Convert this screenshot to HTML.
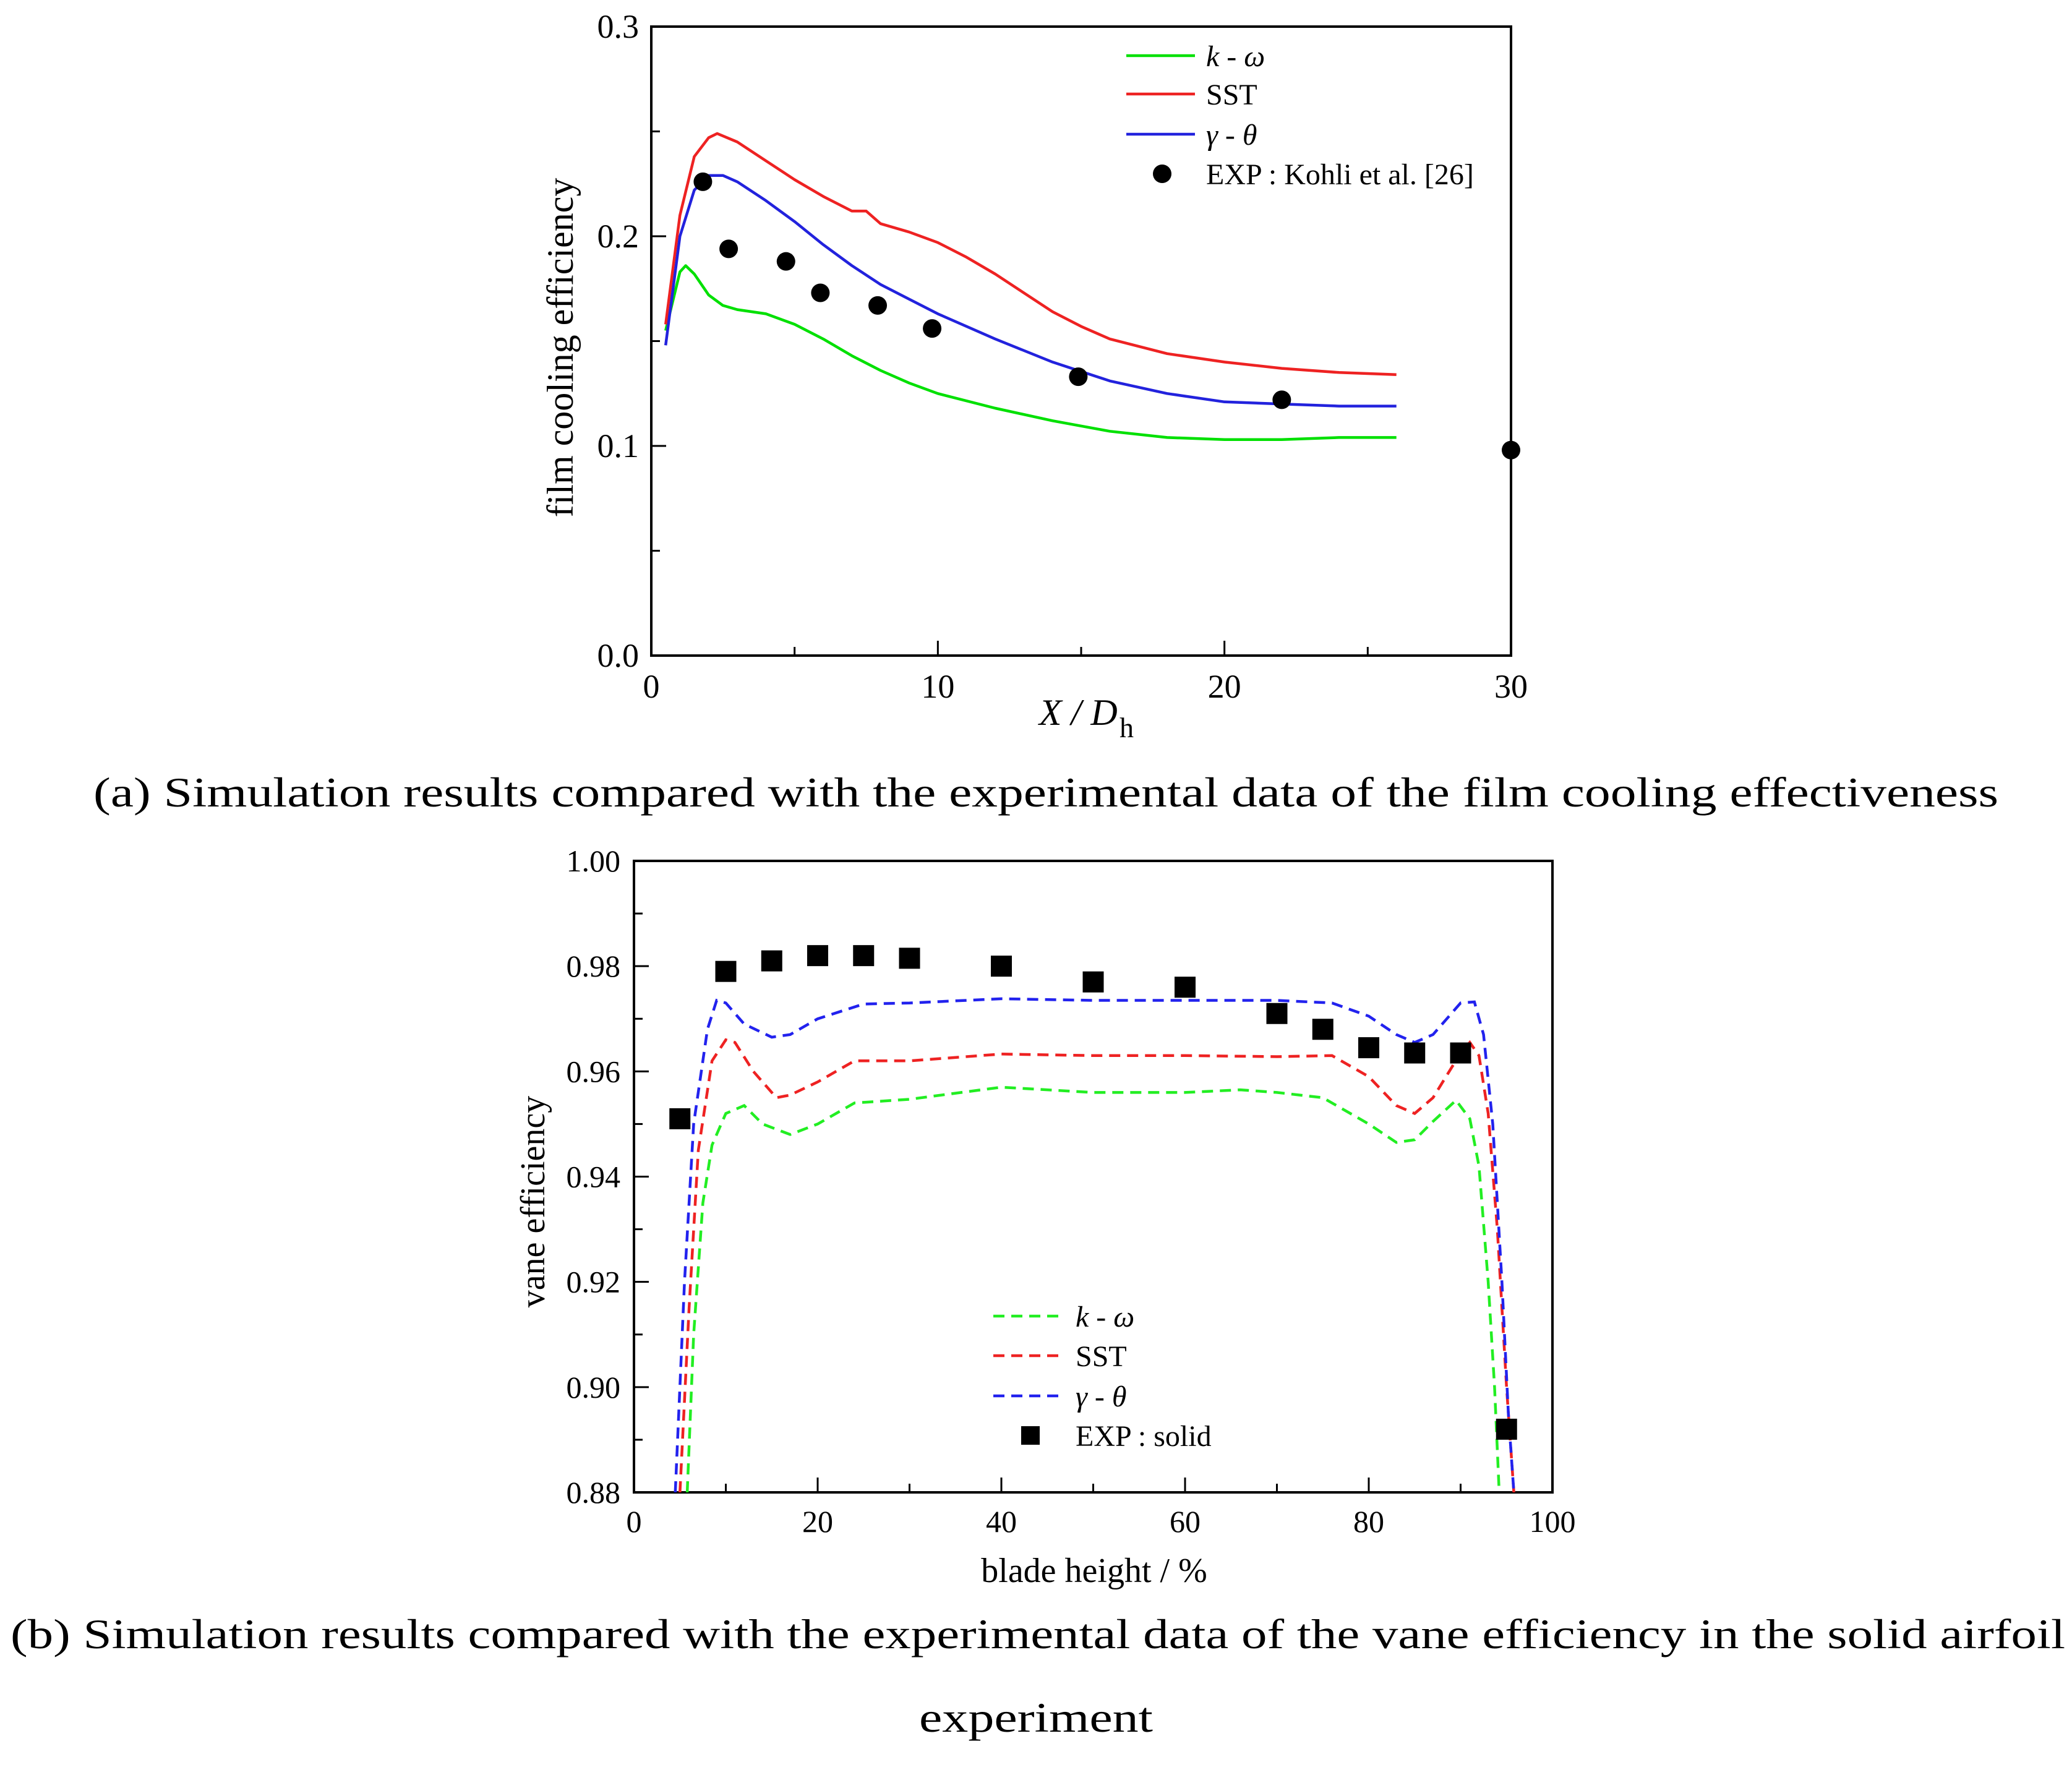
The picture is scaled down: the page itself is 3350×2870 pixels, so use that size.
<!DOCTYPE html>
<html><head><meta charset="utf-8"><style>
html,body{margin:0;padding:0;background:#fff}
svg{display:block}
text{font-family:"Liberation Serif",serif;fill:#000}
</style></head><body>
<svg id="svg" width="3350" height="2870" viewBox="0 0 3350 2870" xmlns="http://www.w3.org/2000/svg">
<defs>
<clipPath id="clipB"><rect x="1025" y="1390" width="1488" height="1025"/></clipPath>
</defs>
<g id="chartA"></g>
<g id="chartB"></g>
<text x="151" y="1304" font-size="68" textLength="3080" lengthAdjust="spacingAndGlyphs">(a) Simulation results compared with the experimental data of the film cooling effectiveness</text>
<text x="17" y="2665" font-size="68" textLength="3322" lengthAdjust="spacingAndGlyphs">(b) Simulation results compared with the experimental data of the vane efficiency in the solid airfoil</text>
<text x="1486" y="2800" font-size="68" textLength="378" lengthAdjust="spacingAndGlyphs">experiment</text>
</svg>
<script>
// ---- Chart A data ----
const aKwX=[0.5,1.0,1.2,1.5,2,2.5,3,4,5,6,7,8,9,10,12,14,16,18,20,22,24,26];
const aKwY=[0.155,0.183,0.186,0.182,0.172,0.167,0.165,0.163,0.158,0.151,0.143,0.136,0.13,0.125,0.118,0.112,0.107,0.104,0.103,0.103,0.104,0.104];
const aSstX=[0.5,1,1.5,2,2.3,3,4,5,6,7,7.5,8,9,10,11,12,13,14,15,16,18,20,22,24,26];
const aSstY=[0.158,0.21,0.238,0.247,0.249,0.245,0.236,0.227,0.219,0.212,0.212,0.206,0.202,0.197,0.19,0.182,0.173,0.164,0.157,0.151,0.144,0.14,0.137,0.135,0.134];
const aGtX=[0.5,1,1.5,2,2.5,3,4,5,6,7,8,9,10,12,14,16,18,20,22,24,26];
const aGtY=[0.148,0.2,0.222,0.229,0.229,0.226,0.217,0.207,0.196,0.186,0.177,0.17,0.163,0.151,0.14,0.131,0.125,0.121,0.12,0.119,0.119];
const aExpX=[1.8,2.7,4.7,5.9,7.9,9.8,14.9,22,30];
const aExpY=[0.226,0.194,0.188,0.173,0.167,0.156,0.133,0.122,0.098];
const aXTicks=[0,10,20,30];
const aXTickLabels=["0","10","20","30"];
const aYTicks=[0,0.1,0.2,0.3];
const aYTickLabels=["0.0","0.1","0.2","0.3"];
// ---- Chart B data ----
const bKwX=[5.8,6.5,7.5,8.5,10,12,14,17,20,24,30,40,50,60,66,70,75,80,83,85,87,89.5,91,92,93,93.7,94.2];
const bKwY=[0.88,0.91,0.935,0.946,0.952,0.9535,0.95,0.948,0.95,0.954,0.9547,0.957,0.956,0.956,0.9565,0.956,0.955,0.95,0.9465,0.947,0.9505,0.9545,0.951,0.942,0.92,0.90,0.88];
const bSstX=[5,6,7,8.5,10,11,13,15.5,17,20,24,30,40,50,60,70,76,80,83,85,87,90,91,92,93,94,95,95.8];
const bSstY=[0.88,0.915,0.945,0.962,0.966,0.9655,0.96,0.955,0.9555,0.958,0.962,0.962,0.9633,0.963,0.963,0.9628,0.963,0.959,0.9535,0.952,0.955,0.9635,0.9655,0.963,0.952,0.93,0.90,0.88];
const bGtX=[4.5,5.5,6.5,8,9,10,12,15,17,20,25,30,40,50,60,70,76,80,83,85,87,90,91.5,92.5,93.5,94.5,95.2,95.8];
const bGtY=[0.88,0.92,0.95,0.968,0.9735,0.973,0.969,0.9665,0.967,0.97,0.9728,0.973,0.9738,0.9735,0.9735,0.9735,0.973,0.9705,0.967,0.9655,0.967,0.973,0.9732,0.967,0.95,0.92,0.895,0.88];
const bExpX=[5,10,15,20,25,30,40,50,60,70,75,80,85,90,95];
const bExpY=[0.951,0.979,0.981,0.982,0.982,0.9815,0.98,0.977,0.976,0.971,0.968,0.9645,0.9635,0.9635,0.892];
const bXTicks=[0,20,40,60,80,100];
const bXTickLabels=["0","20","40","60","80","100"];
const bYTicks=[0.88,0.90,0.92,0.94,0.96,0.98,1.00];
const bYTickLabels=["0.88","0.90","0.92","0.94","0.96","0.98","1.00"];

const NS="http://www.w3.org/2000/svg";
function mk(parent,tag,attrs,txt){const e=document.createElementNS(NS,tag);for(const k in attrs)e.setAttribute(k,attrs[k]);if(txt!==undefined)e.textContent=txt;parent.appendChild(e);return e;}

// ===== Chart A =====
(function(){
const g=document.getElementById('chartA');
const L=1053,R=2443,T=43,B=1060;
const sx=v=>L+(v-0)/(30-0)*(R-L);
const sy=v=>B-(v-0)/(0.3-0)*(B-T);
for(let v=5;v<30;v+=10){const t=mk(g,'line',{x1:sx(v),x2:sx(v),y1:B,y2:B-14,stroke:'#000','stroke-width':3});
}
for(let v=0.05;v<0.3;v+=0.1){const t=mk(g,'line',{x1:L,x2:L+14,y1:sy(v),y2:sy(v),stroke:'#000','stroke-width':3});
}
aXTicks.forEach((v,i)=>{const t=mk(g,'line',{x1:sx(v),x2:sx(v),y1:B,y2:B-24,stroke:'#000','stroke-width':3});

const l=mk(g,'text',{x:sx(v),y:B+68,'font-size':54,'text-anchor':'middle'},aXTickLabels[i]);
});
aYTicks.forEach((v,i)=>{const t=mk(g,'line',{x1:L,x2:L+24,y1:sy(v),y2:sy(v),stroke:'#000','stroke-width':3});

const l=mk(g,'text',{x:L-20,y:sy(v)+18,'font-size':54,'text-anchor':'end'},aYTickLabels[i]);
});
const fr=mk(g,'rect',{x:L,y:T,width:R-L,height:B-T,fill:'none',stroke:'#000','stroke-width':4});

function line(xs,ys,col,name){const d=xs.map((x,i)=>(i?'L':'M')+sx(x).toFixed(1)+','+sy(ys[i]).toFixed(1)).join(' ');
const p=mk(g,'path',{d:d,fill:'none',stroke:col,'stroke-width':4.5,'stroke-linejoin':'round'});
}
line(aKwX,aKwY,'#00e000','series-k-omega');
line(aSstX,aSstY,'#ee2222','series-sst');
line(aGtX,aGtY,'#2222dd','series-gamma-theta');
aExpX.forEach((x,i)=>{const c=mk(g,'circle',{cx:sx(x),cy:sy(aExpY[i]),r:15,fill:'#000'});
});
const leg=[['#00e000','k - ω',true],['#ee2222','SST',false],['#2222dd','γ - θ',true]];
const ly=[90,152,217];
leg.forEach((e,i)=>{const l=mk(g,'line',{x1:1821,x2:1932,y1:ly[i],y2:ly[i],stroke:e[0],'stroke-width':4.5});

const t=mk(g,'text',{x:1950,y:ly[i]+17,'font-size':48,'font-style':e[2]?'italic':'normal'},e[1]);
});
const lc=mk(g,'circle',{cx:1879,cy:281,r:15,fill:'#000'});

const lt=mk(g,'text',{x:1950,y:298,'font-size':48},'EXP : Kohli et al. [26]');

const yt=mk(g,'text',{x:0,y:0,'font-size':60,'text-anchor':'middle',transform:'translate(926,562) rotate(-90)'},'film cooling efficiency');

const xt=mk(g,'text',{x:1680,y:1172,'font-size':60,'font-style':'italic'},'X / D');

const xs=mk(g,'text',{x:1810,y:1192,'font-size':46},'h');

})();

// ===== Chart B =====
(function(){
const g=document.getElementById('chartB');
const L=1025,R=2510,T=1392,B=2413;
const sx=v=>L+(v-0)/(100-0)*(R-L);
const sy=v=>B-(v-0.88)/(1.00-0.88)*(B-T);
document.querySelector('#clipB rect').setAttribute('x',L);
document.querySelector('#clipB rect').setAttribute('y',T);
document.querySelector('#clipB rect').setAttribute('width',R-L);
document.querySelector('#clipB rect').setAttribute('height',B-T);
for(let v=10;v<100;v+=20){const t=mk(g,'line',{x1:sx(v),x2:sx(v),y1:B,y2:B-14,stroke:'#000','stroke-width':3});
}
for(let v=0.89;v<1.0;v+=0.02){const t=mk(g,'line',{x1:L,x2:L+14,y1:sy(v),y2:sy(v),stroke:'#000','stroke-width':3});
}
bXTicks.forEach((v,i)=>{const t=mk(g,'line',{x1:sx(v),x2:sx(v),y1:B,y2:B-24,stroke:'#000','stroke-width':3});

const l=mk(g,'text',{x:sx(v),y:B+64,'font-size':50,'text-anchor':'middle'},bXTickLabels[i]);
});
bYTicks.forEach((v,i)=>{const t=mk(g,'line',{x1:L,x2:L+24,y1:sy(v),y2:sy(v),stroke:'#000','stroke-width':3});

const l=mk(g,'text',{x:L-22,y:sy(v)+17,'font-size':50,'text-anchor':'end'},bYTickLabels[i]);
});
const fr=mk(g,'rect',{x:L,y:T,width:R-L,height:B-T,fill:'none',stroke:'#000','stroke-width':4});

const cg=mk(g,'g',{'clip-path':'url(#clipB)'});

function line(xs,ys,col,name){const d=xs.map((x,i)=>(i?'L':'M')+sx(x).toFixed(1)+','+sy(ys[i]).toFixed(1)).join(' ');
const p=mk(cg,'path',{d:d,fill:'none',stroke:col,'stroke-width':4.5,'stroke-dasharray':'18 11'});
}
line(bKwX,bKwY,'#22ee22','series-k-omega');
line(bSstX,bSstY,'#ee2222','series-sst');
line(bGtX,bGtY,'#2222ee','series-gamma-theta');
bExpX.forEach((x,i)=>{const r=mk(g,'rect',{x:sx(x)-17,y:sy(bExpY[i])-17,width:34,height:34,fill:'#000'});
});
const leg=[['#22ee22','k - ω',true],['#ee2222','SST',false],['#2222ee','γ - θ',true]];
const ly=[2128,2192,2257];
leg.forEach((e,i)=>{const l=mk(g,'line',{x1:1606,x2:1718,y1:ly[i],y2:ly[i],stroke:e[0],'stroke-width':4.5,'stroke-dasharray':'18 11'});

const t=mk(g,'text',{x:1739,y:ly[i]+17,'font-size':48,'font-style':e[2]?'italic':'normal'},e[1]);
});
const lm=mk(g,'rect',{x:1651,y:2306,width:30,height:30,fill:'#000'});

const lt=mk(g,'text',{x:1739,y:2338,'font-size':48},'EXP : solid');

const yt=mk(g,'text',{x:0,y:0,'font-size':56,'text-anchor':'middle',transform:'translate(880,1943) rotate(-90)'},'vane efficiency');

const xt=mk(g,'text',{x:1769,y:2558,'font-size':56,'text-anchor':'middle'},'blade height / %');

})();
</script>
</body></html>
